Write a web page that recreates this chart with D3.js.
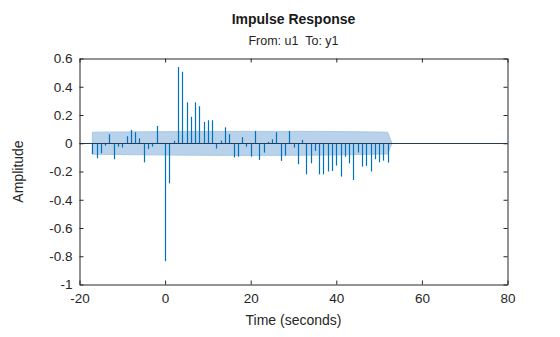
<!DOCTYPE html>
<html>
<head>
<meta charset="utf-8">
<script src="https://cdn.jsdelivr.net/npm/d3@7"></script>
<style>
  html, body { margin: 0; padding: 0; background: #fff; }
  svg { display: block; font-family: "Liberation Sans", Arial, Helvetica, sans-serif; }
</style>
</head>
<body>
<svg id="chart" width="560" height="337"></svg>
<script>
// ---- data ----
const lags = [-17,-16,-15,-14,-13,-12,-11,-10,-9,-8,-7,-6,-5,-4,-3,-2,-1,0,1,2,3,4,5,6,7,8,9,10,11,12,13,14,15,16,17,18,19,20,21,22,23,24,25,26,27,28,29,30,31,32,33,34,35,36,37,38,39,40,41,42,43,44,45,46,47,48,49,50,51,52];
const impulse = [-0.076,-0.106,-0.071,-0.017,0.064,-0.113,-0.024,-0.030,0.050,0.095,0.078,0.035,-0.135,-0.040,-0.024,0.123,0.003,-0.835,-0.284,0.017,0.540,0.506,0.290,0.187,0.290,0.262,0.151,0.163,0.163,-0.038,0.019,0.113,0.064,-0.100,-0.095,0.043,-0.024,-0.095,0.087,-0.118,-0.066,0.010,0.028,0.078,-0.125,-0.087,0.087,-0.030,-0.149,0.024,-0.220,-0.142,-0.054,-0.220,-0.220,-0.200,-0.196,-0.158,-0.236,-0.095,-0.142,-0.260,-0.066,-0.165,-0.160,-0.200,-0.113,-0.135,-0.123,-0.137];
const bandTimes = [-17, -10, 0, 10, 20, 30, 40, 48, 52, 53];
const bandUpper = [0.078, 0.080, 0.082, 0.083, 0.084, 0.084, 0.083, 0.080, 0.078, 0];
const bandLower = [-0.078, -0.080, -0.083, -0.085, -0.086, -0.085, -0.083, -0.078, -0.076, 0];
const xTicks = [-20, 0, 20, 40, 60, 80];
const xTickLabels = ["-20", "0", "20", "40", "60", "80"];
const yTicks = [-1, -0.8, -0.6, -0.4, -0.2, 0, 0.2, 0.4, 0.6];
const yTickLabels = ["-1", "-0.8", "-0.6", "-0.4", "-0.2", "0", "0.2", "0.4", "0.6"];
const titleText = "Impulse Response";
const subtitleText = "From: u1  To: y1";
const xLabel = "Time (seconds)";
const yLabel = "Amplitude";

// ---- layout ----
const svg = d3.select("#chart");
const L = 79.5, R = 507.5, T = 58.5, B = 284.5;
const x = d3.scaleLinear().domain([-20, 80]).range([L, R]);
const y = d3.scaleLinear().domain([-1, 0.6]).range([B, T]);
const axisColor = "#262626";
const stemColor = "#0072BD";

// confidence band
const bandData = bandTimes.map((t, i) => ({t, u: bandUpper[i], l: bandLower[i]}));
svg.append("path")
  .datum(bandData)
  .attr("d", d3.area().x(d => x(d.t)).y0(d => y(d.l)).y1(d => y(d.u)))
  .attr("fill", "#b7d2ea")
  .attr("stroke", "#a9c8e4")
  .attr("stroke-width", 1);

// stems
const data = lags.map((t, i) => ({t, v: impulse[i]}));
svg.append("g").selectAll("line").data(data).join("line")
  .attr("x1", d => Math.round(x(d.t)) + 0.5)
  .attr("x2", d => Math.round(x(d.t)) + 0.5)
  .attr("y1", y(0))
  .attr("y2", d => y(d.v))
  .attr("stroke", stemColor)
  .attr("stroke-width", 1.2);

// zero line
svg.append("line")
  .attr("x1", L).attr("x2", R)
  .attr("y1", Math.round(y(0)) + 0.5).attr("y2", Math.round(y(0)) + 0.5)
  .attr("stroke", "#263c52").attr("stroke-width", 1);

// axes (box with inward ticks)
const tickLen = 4;
const xFmt = d => xTickLabels[xTicks.indexOf(d)];
const yFmt = d => yTickLabels[yTicks.indexOf(d)];
const axB = svg.append("g").attr("transform", `translate(0,${B})`)
  .call(d3.axisBottom(x).tickValues(xTicks).tickSizeInner(-tickLen).tickSizeOuter(0).tickPadding(8).tickFormat(xFmt));
const axT = svg.append("g").attr("transform", `translate(0,${T})`)
  .call(d3.axisTop(x).tickValues(xTicks).tickSizeInner(-tickLen).tickSizeOuter(0).tickFormat(""));
const axL = svg.append("g").attr("transform", `translate(${L},0)`)
  .call(d3.axisLeft(y).tickValues(yTicks).tickSizeInner(-tickLen).tickSizeOuter(0).tickPadding(7).tickFormat(yFmt));
const axR = svg.append("g").attr("transform", `translate(${R},0)`)
  .call(d3.axisRight(y).tickValues(yTicks).tickSizeInner(-tickLen).tickSizeOuter(0).tickFormat(""));

[axB, axT, axL, axR].forEach(a => {
  a.selectAll("path.domain").attr("stroke", axisColor).attr("stroke-width", 1);
  a.selectAll(".tick line").attr("stroke", axisColor);
  a.selectAll("text").attr("fill", axisColor).style("font-size", "13.5px")
    .style("font-family", "'Liberation Sans', Arial, Helvetica, sans-serif");
});
axB.selectAll("text").attr("dy", "0.75em");

// titles
svg.append("text").attr("x", (L + R) / 2).attr("y", 24)
  .attr("text-anchor", "middle").attr("fill", "#1a1a1a")
  .style("font-size", "14px").style("font-weight", "bold").text(titleText);
svg.append("text").attr("x", (L + R) / 2).attr("y", 45)
  .attr("text-anchor", "middle").attr("fill", "#262626")
  .style("white-space", "pre")
  .style("font-size", "12.5px").text(subtitleText);
svg.append("text").attr("x", (L + R) / 2).attr("y", 325)
  .attr("text-anchor", "middle").attr("fill", "#262626")
  .style("font-size", "14px").text(xLabel);
svg.append("text").attr("transform", `translate(23,${(T + B) / 2}) rotate(-90)`)
  .attr("text-anchor", "middle").attr("fill", "#262626")
  .style("font-size", "14px").text(yLabel);
</script>
</body>
</html>
